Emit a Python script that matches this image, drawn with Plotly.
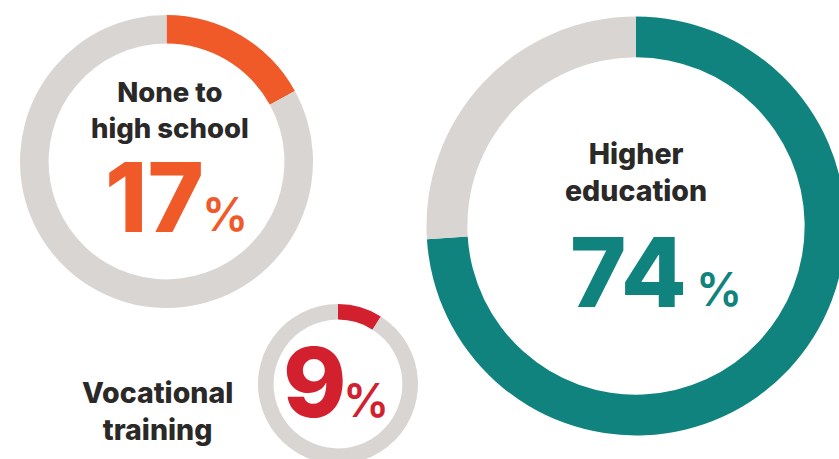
import plotly.graph_objects as go

# Education levels and their shares (percent)
categories = ["None to high school", "Higher education", "Vocational training"]
shares = [17, 74, 9]
captions = ["None to<br>high school", "Higher<br>education", "Vocational<br>training"]
accent_colors = ["#F05A28", "#10837F", "#D3202F"]
track_color = "#D8D5D2"
ink = "#2B2928"

W, H = 860, 480  # canvas a little larger than the view so the big ring can bleed off the edge

# ring layout in pixels: centre x, centre y, outer radius
rings = [(166.5, 161.5, 146.5), (636, 226, 209.5), (338, 384, 80)]


def px(x):
    return x / W


def py(y):
    return 1 - y / H


fig = go.Figure()
for cat, val, col, (cx, cy, r) in zip(categories, shares, accent_colors, rings):
    fig.add_trace(go.Pie(
        labels=[cat, "rest"],
        values=[val, 100 - val],
        hole=0.805,
        sort=False,
        direction="clockwise",
        rotation=0,
        marker=dict(colors=[col, track_color], line=dict(width=0)),
        textinfo="none",
        hoverinfo="skip",
        showlegend=False,
        domain=dict(x=[px(cx - r), px(cx + r)], y=[py(cy + r), py(cy - r)]),
    ))

FONT = "Inter"


def note(text, x, y, size, color, xanchor="center", weight=800):
    fig.add_annotation(
        text=text, x=px(x), y=py(y), xref="paper", yref="paper",
        xanchor=xanchor, yanchor="middle", showarrow=False,
        font=dict(family=FONT, size=size, color=color, weight=weight),
    )


# category captions
note(captions[0], 170, 110, 27.5, ink)
note(captions[1], 636, 172, 28.5, ink)
note(captions[2], 157, 411, 28.5, ink)

# share figures
note(str(shares[0]), 206, 197, 96, accent_colors[0], xanchor="right")
note("%", 200, 214, 46, accent_colors[0], xanchor="left", weight=600)
note(str(shares[1]), 689, 272, 96, accent_colors[1], xanchor="right")
note("%", 694, 289, 46, accent_colors[1], xanchor="left", weight=600)
note(str(shares[2]), 349, 382, 96, accent_colors[2], xanchor="right")
note("%", 341, 400, 46, accent_colors[2], xanchor="left", weight=600)

fig.update_layout(
    width=W, height=H,
    margin=dict(l=0, r=0, t=0, b=0),
    paper_bgcolor="white",
    plot_bgcolor="white",
)

fig.write_html("out.html", post_script="document.body.style.margin='0';document.body.style.overflow='hidden';")
